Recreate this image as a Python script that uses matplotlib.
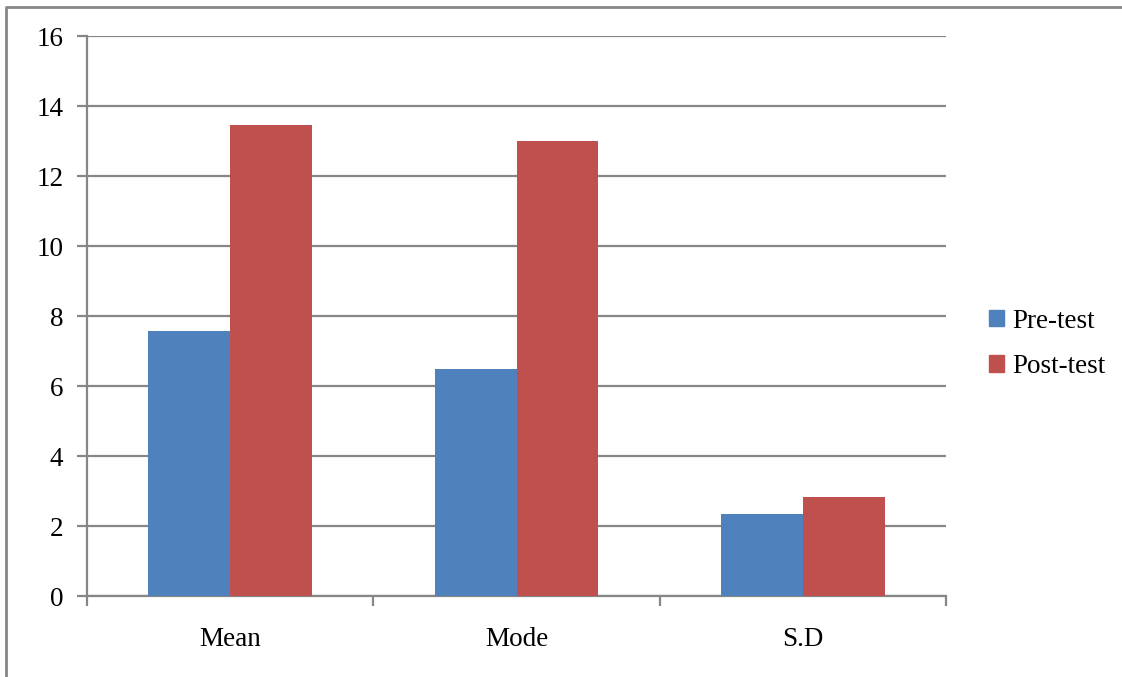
import numpy as np
import matplotlib.pyplot as plt
from matplotlib.lines import Line2D
from matplotlib.patches import Patch

# DADOS DO GRÁFICO
categorias = ['Mean', 'Mode', 'S.D']
pre_test = [7.57, 6.5, 2.33]
post_test = [13.47, 13.0, 2.82]
series = ['Pre-test', 'Post-test']
cores = ['#4F81BD', '#C0504D']
cinza = '#868686'

plt.rcParams['font.family'] = ['Liberation Serif', 'DejaVu Serif']
tam = 19.5

fig = plt.figure(figsize=(11.22, 6.77), dpi=100)
ax = fig.add_axes([87 / 1122, 81 / 677, 859 / 1122, 560 / 677])

# BARRAS
x = np.arange(len(categorias))
largura = 0.286
ax.bar(x - largura / 2, pre_test, largura, color=cores[0], zorder=3)
ax.bar(x + largura / 2, post_test, largura, color=cores[1], zorder=3)

# EIXOS
ax.set_xlim(-0.5, len(categorias) - 0.5)
ax.set_ylim(0, 16)
ax.set_yticks(np.arange(0, 17, 2))
ax.yaxis.grid(True, color=cinza, linewidth=1.6, zorder=0)
ax.set_xticks(np.arange(-0.5, len(categorias), 1))
ax.set_xticklabels([])
ax.set_xticks(x, minor=True)
ax.set_xticklabels(categorias, minor=True)
ax.tick_params(axis='x', which='minor', length=0, pad=22, labelsize=tam)
ax.tick_params(axis='x', which='major', length=7, width=1.6, color=cinza)
ax.tick_params(axis='y', length=7, width=1.6, color=cinza, labelsize=tam, pad=10)

for lado in ['top', 'right']:
    ax.spines[lado].set_visible(False)
for lado in ['left', 'bottom']:
    ax.spines[lado].set_color(cinza)
    ax.spines[lado].set_linewidth(1.6)

# LEGENDA
handles = [Patch(color=c) for c in cores]
fig.legend(handles, series, loc='center left', bbox_to_anchor=(965 / 1122, 1 - 344 / 677),
           frameon=False, fontsize=tam, handlelength=0.55, handleheight=0.55,
           handletextpad=0.3, labelspacing=0.75)

# BORDA EXTERNA
fig.add_artist(Line2D([6 / 1122, 6 / 1122, 1.0], [0.0, 1 - 6.5 / 677, 1 - 6.5 / 677],
                      transform=fig.transFigure, color=cinza, linewidth=2))

fig.savefig('out.png', dpi=100)
